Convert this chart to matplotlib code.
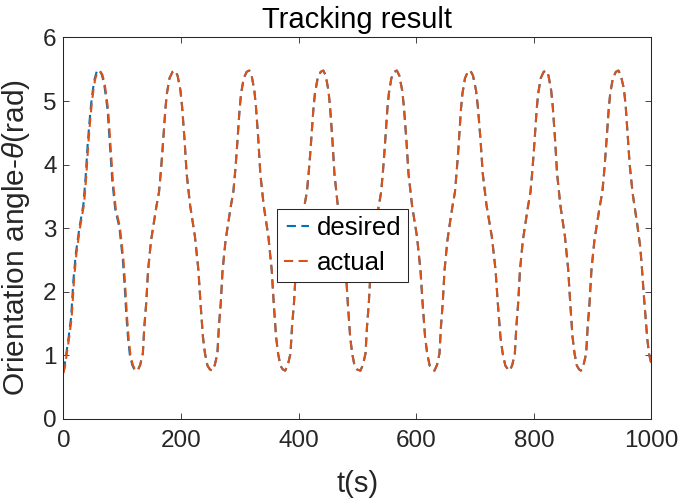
import math
import matplotlib
matplotlib.use("Agg")
import matplotlib.pyplot as plt

plt.rcParams['font.family'] = ['Liberation Sans', 'DejaVu Sans']
plt.rcParams['mathtext.fontset'] = 'custom'
plt.rcParams['mathtext.rm'] = 'Liberation Sans'
plt.rcParams['mathtext.it'] = 'Liberation Sans:italic'

# 实际轨迹：时间 (s) 与朝向角 (rad)
t_actual = [
    0, 3, 6, 10, 14, 18, 22, 28, 35, 39, 42, 45, 48, 51, 54, 58, 62, 66, 70, 73,
    76, 80, 84, 89, 96, 102, 105, 108, 111, 114, 118, 122,
    126, 130.5, 135, 137.5, 140.7, 143.9, 149, 153.5, 158, 162.5, 165.7, 168.2, 170.8, 173.4,
    175.9, 180.4, 185.5, 190, 194.1, 198.9, 201.8, 205.9, 209.5, 215.4, 223.6, 229.5, 233.1,
    237.2, 240.7, 244.9, 249,
    253, 257.4, 261.8, 264.3, 267.5, 270.6, 275.7, 280.1, 284.5, 288.9, 292.1, 294.6, 297.1,
    299.6, 302.1, 306.6, 311.6, 316, 320, 324.6, 327.4, 331.4, 334.8, 340.5, 348.5, 354.2,
    357.6, 361.6, 365, 369, 373,
    377, 381.6, 386.1, 388.7, 392, 395.2, 400.4, 405, 409.5, 414, 417.3, 419.9, 422.5, 425.1,
    427.7, 432.3, 437.5, 442, 446, 450.6, 453.4, 457.4, 460.8, 466.5, 474.5, 480.2, 483.6,
    487.6, 491, 495, 499,
    505, 509.3, 513.7, 516.2, 519.3, 522.4, 527.3, 531.7, 536, 540.3, 543.4, 545.9, 548.4,
    550.9, 553.4, 557.7, 562.7, 567, 571.2, 576, 579, 583.2, 586.8, 592.8, 601.2, 607.2,
    610.8, 615, 618.6, 622.8, 627,
    631, 635.3, 639.5, 642, 645, 648.1, 653, 657.2, 661.5, 665.8, 668.8, 671.3, 673.7, 676.1,
    678.6, 682.9, 687.7, 692, 696.5, 701.6, 704.8, 709.3, 713.1, 719.5, 728.5, 734.9, 738.7,
    743.2, 747, 751.5, 756,
    759, 763.3, 767.7, 770.2, 773.3, 776.4, 781.3, 785.7, 790, 794.3, 797.4, 799.9, 802.4,
    804.9, 807.4, 811.7, 816.7, 821, 824.9, 829.4, 832.2, 836.1, 839.5, 845.1, 852.9, 858.5,
    861.9, 865.8, 869.2, 873.1, 877,
    880, 884.5, 889, 891.5, 894.7, 897.9, 903, 907.5, 912, 916.5, 919.7, 922.2, 924.8, 927.4,
    929.9, 934.4, 939.5, 944, 948, 953, 956, 959, 963, 968, 976, 981, 984, 987, 990, 993,
    996, 1000,
]
theta_actual = [
    0.72, 0.85, 1.05, 1.3, 1.6, 2.2, 2.6, 3.0, 3.38, 3.85, 4.3, 4.65, 4.95, 5.18, 5.35, 5.46,
    5.47, 5.42, 5.28, 5.08, 4.86, 4.3, 3.75, 3.3, 3.02, 2.5, 2.1, 1.62, 1.25, 1.0, 0.85, 0.77,
    0.76, 0.85, 1.03, 1.45, 1.82, 2.34, 2.81, 3.08, 3.34, 3.57, 3.90, 4.20, 4.55, 4.88,
    5.12, 5.36, 5.46, 5.48, 5.40, 5.17, 4.91, 4.39, 3.86, 3.36, 2.87, 2.34, 1.82,
    1.29, 1.03, 0.84, 0.78,
    0.76, 0.85, 1.03, 1.45, 1.82, 2.34, 2.81, 3.08, 3.34, 3.57, 3.90, 4.20, 4.55,
    4.88, 5.12, 5.36, 5.46, 5.48, 5.40, 5.17, 4.91, 4.39, 3.86, 3.36, 2.87, 2.34,
    1.82, 1.29, 1.03, 0.84, 0.78,
    0.76, 0.85, 1.03, 1.45, 1.82, 2.34, 2.81, 3.08, 3.34, 3.57, 3.90, 4.20, 4.55, 4.88,
    5.12, 5.36, 5.46, 5.48, 5.40, 5.17, 4.91, 4.39, 3.86, 3.36, 2.87, 2.34, 1.82,
    1.29, 1.03, 0.84, 0.78,
    0.76, 0.85, 1.03, 1.45, 1.82, 2.34, 2.81, 3.08, 3.34, 3.57, 3.90, 4.20, 4.55,
    4.88, 5.12, 5.36, 5.46, 5.48, 5.40, 5.17, 4.91, 4.39, 3.86, 3.36, 2.87, 2.34,
    1.82, 1.29, 1.03, 0.84, 0.78,
    0.76, 0.85, 1.03, 1.45, 1.82, 2.34, 2.81, 3.08, 3.34, 3.57, 3.90, 4.20, 4.55, 4.88,
    5.12, 5.36, 5.46, 5.48, 5.40, 5.17, 4.91, 4.39, 3.86, 3.36, 2.87, 2.34, 1.82,
    1.29, 1.03, 0.84, 0.78,
    0.76, 0.85, 1.03, 1.45, 1.82, 2.34, 2.81, 3.08, 3.34, 3.57, 3.90, 4.20, 4.55,
    4.88, 5.12, 5.36, 5.46, 5.48, 5.40, 5.17, 4.91, 4.39, 3.86, 3.36, 2.87, 2.34,
    1.82, 1.29, 1.03, 0.84, 0.78,
    0.76, 0.85, 1.03, 1.45, 1.82, 2.34, 2.81, 3.08, 3.34, 3.57, 3.90, 4.20, 4.55, 4.88,
    5.12, 5.36, 5.46, 5.48, 5.40, 5.20, 4.95, 4.55, 4.00, 3.55, 3.05, 2.70, 2.35, 1.95,
    1.60, 1.25, 1.02, 0.86,
]

# 期望轨迹：第一个周期略超前于实际轨迹，之后两者重合
t_desired_start = [
    0, 2, 5, 9, 13, 17, 21, 27, 34, 38, 41, 44, 47, 50, 53, 57, 61, 65, 69, 72,
    75, 79, 83, 88, 95, 101, 104, 107, 110, 113, 117, 121,
]
theta_desired_start = [
    0.72, 0.85, 1.05, 1.3, 1.6, 2.2, 2.6, 3.0, 3.38, 3.85, 4.3, 4.65, 4.95, 5.18, 5.35, 5.48,
    5.49, 5.42, 5.28, 5.08, 4.86, 4.3, 3.75, 3.3, 3.02, 2.5, 2.1, 1.62, 1.25, 1.0, 0.85, 0.77,
]
n_start = 32  # 第一个周期在实际轨迹中的点数
t_desired = t_desired_start + t_actual[n_start:]
theta_desired = theta_desired_start + theta_actual[n_start:]

x_ticks = [0, 200, 400, 600, 800, 1000]
y_ticks = [0, 1, 2, 3, 4, 5, 6]

blue = '#0072BD'
orange = '#D95319'
axis_color = '#262626'
lw = 1.5
dash_on, dash_off = 4.4, 2.6

fig = plt.figure(figsize=(6.81, 5.01), dpi=100)
ax = fig.add_axes([0.0932, 0.1637, 0.8634, 0.7615])
ax.set_xlim(0, 1000)
ax.set_ylim(0, 6)


def path_len_pt(xs, ys):
    # 曲线在屏幕上的长度（单位：pt）
    pts = ax.transData.transform(list(zip(xs, ys)))
    total = 0.0
    for (x0, y0), (x1, y1) in zip(pts[:-1], pts[1:]):
        total += math.hypot(x1 - x0, y1 - y0)
    return total * 72.0 / fig.dpi


# 让两条虚线在第一个周期之后相位一致，便于重合显示
len_a = path_len_pt(t_actual[:n_start + 1], theta_actual[:n_start + 1])
len_d = path_len_pt(t_desired[:n_start + 1], theta_desired[:n_start + 1])
offset_d = ((len_a - len_d) / lw) % (dash_on + dash_off)

ax.plot(t_desired, theta_desired, color=blue, lw=lw,
        linestyle=(offset_d, (dash_on, dash_off)), label='desired')
ax.plot(t_actual, theta_actual, color=orange, lw=lw,
        linestyle=(0, (dash_on, dash_off)), label='actual')

ax.set_xticks(x_ticks)
ax.set_yticks(y_ticks)
ax.tick_params(direction='in', length=4.3, width=0.6, colors=axis_color,
               labelsize=17.5, top=True, right=True, pad=5)
ax.tick_params(axis='x', pad=8)
for tl in ax.get_xticklabels() + ax.get_yticklabels():
    tl.set_color('#262626')
for sp in ax.spines.values():
    sp.set_color(axis_color)
    sp.set_linewidth(0.75)

ax.set_title('Tracking result', fontsize=21, pad=7, color='black')
ax.set_xlabel('t(s)', fontsize=21, color='#262626', labelpad=13)
ax.set_ylabel(r'Orientation angle-$\theta$(rad)', fontsize=21.5, color='#262626')
ax.yaxis.set_label_coords(-0.053, 0.475)

leg = ax.legend(loc='upper left', bbox_to_anchor=(0.3636, 0.5497), fontsize=18.5,
                frameon=True, fancybox=False, handlelength=1.0, handletextpad=0.3,
                borderpad=0.25, labelspacing=0.45, borderaxespad=0)
leg.get_frame().set_edgecolor(axis_color)
leg.get_frame().set_linewidth(0.75)
leg.get_frame().set_alpha(1)

fig.savefig('out.png', dpi=100)
